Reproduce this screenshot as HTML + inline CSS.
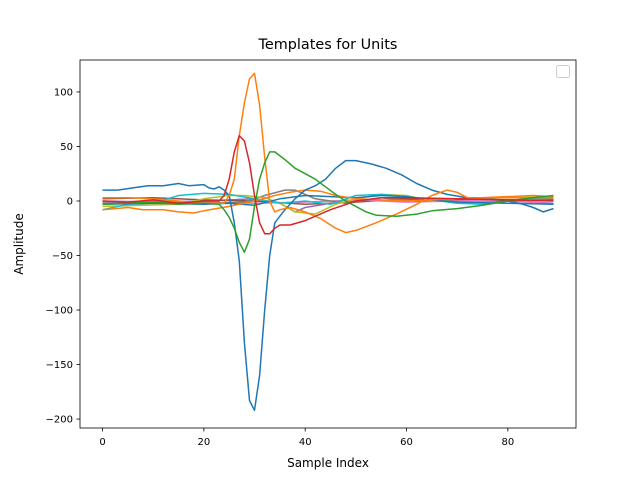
<!DOCTYPE html>
<html><head><meta charset="utf-8"><style>
body{margin:0;background:#fff}
svg text{font-family:"DejaVu Sans","Liberation Sans",sans-serif;fill:#000}
</style></head><body>
<svg id="chart" width="640" height="480" viewBox="0 0 640 480" xmlns="http://www.w3.org/2000/svg">
<rect width="640" height="480" fill="#fff"/>
<text x="328" y="49" font-size="14.4" text-anchor="middle">Templates for Units</text>
<text x="328" y="467" font-size="12" text-anchor="middle">Sample Index</text>
<text x="23" y="244" font-size="12" text-anchor="middle" transform="rotate(-90 23 244)">Amplitude</text>
<g id="series"></g>
<g id="ticks"></g>
<rect x="80" y="60" width="496" height="368" fill="none" stroke="#000" stroke-width="0.8"/>
<rect x="556.5" y="65.5" width="13" height="12" rx="2" fill="#fff" stroke="#ccc" stroke-width="1"/>
</svg>
<script>
const xTicks=[0,20,40,60,80];
const yTicks=[100,50,0,-50,-100,-150,-200];
const colors=["#1f77b4","#ff7f0e","#2ca02c","#d62728","#9467bd","#8c564b","#e377c2","#7f7f7f","#bcbd22","#17becf","#1f77b4","#ff7f0e"];
const s0x=[0,3,6,9,12,15,17,20,21,22,23,24,25,26,27,28,29,30,31,32,33,34,36,38,40,42,44,46,48,50,53,56,59,62,65,68,72,76,80,83,85,87,89];
const s0y=[10,10,12,14,14,16,14,15,12,11,13,10,5,-20,-55,-130,-183,-192,-160,-100,-50,-20,-8,2,10,14,20,30,37,37,34,30,24,16,10,6,3,2,0,-3,-6,-10,-7];
const s1x=[0,5,10,15,20,24,25,26,27,28,29,30,31,32,33,34,35,37,40,43,46,48,50,54,58,62,65,68,70,72,80,89];
const s1y=[3,3,2,0,-2,-2,5,20,60,90,112,117,88,40,0,-10,-8,-6,-10,-16,-25,-29,-27,-20,-12,-3,5,10,8,3,3,3];
const s2x=[0,5,10,15,20,23,24,25,26,27,28,29,30,31,32,33,34,36,38,40,42,44,46,48,50,52,54,58,62,65,70,75,80,85,89];
const s2y=[-3,-2,-1,-3,-2,-3,-8,-15,-25,-38,-47,-35,-5,20,35,45,45,38,30,25,20,13,6,0,-5,-10,-13,-14,-12,-9,-7,-4,0,3,5];
const s3x=[0,5,10,15,20,23,24,25,26,27,28,29,30,31,32,33,34,35,37,40,45,50,55,60,70,80,89];
const s3y=[0,-1,1,-2,0,0,5,20,45,60,55,35,5,-20,-30,-30,-25,-22,-22,-18,-8,0,3,3,2,1,0];
const s4x=[0,10,20,30,35,38,40,45,50,60,70,80,89];
const s4y=[0,-1,0,2,-2,-10,-6,-2,0,1,0,0,-2];
const s5x=[0,10,20,30,40,50,60,70,80,89];
const s5y=[2,3,1,0,-3,-1,2,1,0,1];
const s6x=[0,10,20,30,40,50,60,70,80,89];
const s6y=[-1,0,-1,-2,-1,1,-1,0,1,-3];
const s7x=[0,10,20,28,32,36,38,42,48,55,62,70,80,89];
const s7y=[-2,-1,-2,-1,5,10,10,2,-2,3,0,2,1,2];
const s8x=[0,8,15,20,25,28,32,35,38,42,46,50,55,60,65,70,80,89];
const s8y=[-5,-4,-3,2,5,5,3,-2,-10,-12,-3,2,6,5,0,2,3,4];
const s9x=[0,5,10,15,20,25,30,35,40,45,50,55,60,65,70,75,80,85,89];
const s9y=[-8,-3,-2,5,7,6,2,-2,0,-3,5,6,4,1,-2,-3,0,2,3];
const s10x=[0,10,20,25,30,35,40,45,50,55,60,65,70,80,89];
const s10y=[-3,-2,-3,-2,-4,2,5,4,3,5,4,1,-1,-2,-3];
const s11x=[0,5,8,12,15,18,20,25,30,34,37,40,43,46,50,60,70,85,89];
const s11y=[-8,-6,-8,-8,-10,-11,-9,-5,0,5,8,10,9,5,2,0,2,5,4];
const seriesX=[s0x,s1x,s2x,s3x,s4x,s5x,s6x,s7x,s8x,s9x,s10x,s11x];
const seriesY=[s0y,s1y,s2y,s3y,s4y,s5y,s6y,s7y,s8y,s9y,s10y,s11y];
const X0=-4.45,X1=93.45,Y0=-208.2,Y1=129.3,L=80,R=576,T=60,B=428;
const sx=v=>L+(v-X0)/(X1-X0)*(R-L);
const sy=v=>B-(v-Y0)/(Y1-Y0)*(B-T);
const NS="http://www.w3.org/2000/svg";
const g=document.getElementById('series');
const order=[4,5,6,7,8,9,10,11,0,1,2,3];
order.forEach(i=>{
  const p=document.createElementNS(NS,'polyline');
  p.setAttribute('points',seriesX[i].map((x,k)=>sx(x).toFixed(1)+','+sy(seriesY[i][k]).toFixed(1)).join(' '));
  p.setAttribute('fill','none');p.setAttribute('stroke',colors[i]);p.setAttribute('stroke-width','1.5');
  p.setAttribute('stroke-linejoin','round');
  
  
  g.appendChild(p);
});
const t=document.getElementById('ticks');
xTicks.forEach(v=>{
  const l=document.createElementNS(NS,'line');
  l.setAttribute('x1',sx(v));l.setAttribute('x2',sx(v));l.setAttribute('y1',B);l.setAttribute('y2',B+3.5);l.setAttribute('stroke','#000');l.setAttribute('stroke-width','0.8');
  
  
  t.appendChild(l);
  const tx=document.createElementNS(NS,'text');
  tx.setAttribute('x',sx(v));tx.setAttribute('y',B+17);tx.setAttribute('font-size','10');tx.setAttribute('text-anchor','middle');
  tx.textContent=v;
  
  
  t.appendChild(tx);
});
yTicks.forEach(v=>{
  const l=document.createElementNS(NS,'line');
  l.setAttribute('x1',L-3.5);l.setAttribute('x2',L);l.setAttribute('y1',sy(v));l.setAttribute('y2',sy(v));l.setAttribute('stroke','#000');l.setAttribute('stroke-width','0.8');
  
  
  t.appendChild(l);
  const tx=document.createElementNS(NS,'text');
  tx.setAttribute('x',L-7);tx.setAttribute('y',sy(v)+3.5);tx.setAttribute('font-size','10');tx.setAttribute('text-anchor','end');
  tx.textContent=v<0?'\u2212'+(-v):v;
  
  
  t.appendChild(tx);
});
</script>
</body></html>
